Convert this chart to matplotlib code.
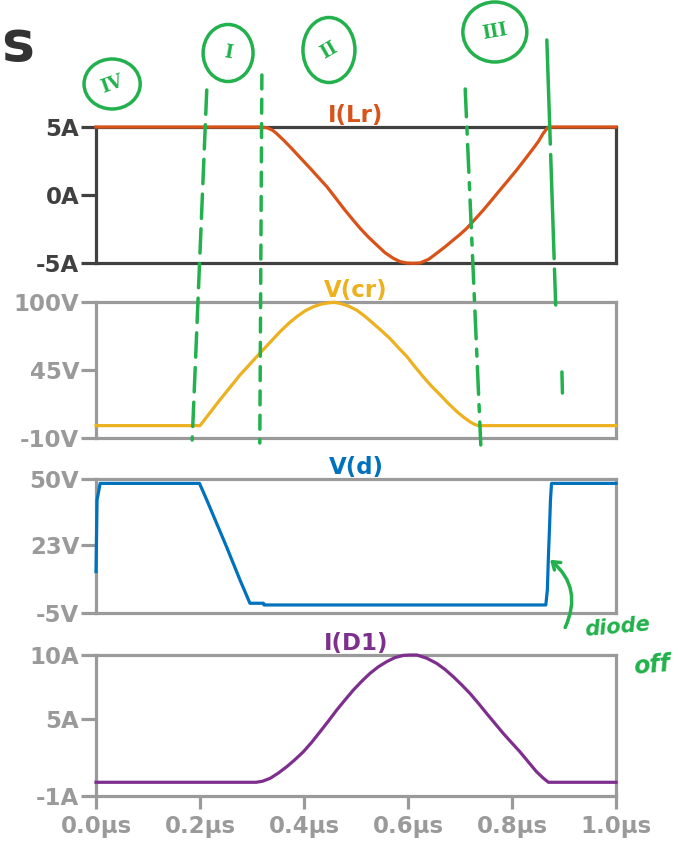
import matplotlib.pyplot as plt
from matplotlib.patches import Ellipse, FancyArrowPatch

# time axis in µs
t_lr = [0.0, 0.319, 0.330, 0.340, 0.347, 0.363, 0.379, 0.395, 0.412, 0.428, 0.444, 0.460,
        0.476, 0.492, 0.508, 0.524, 0.540, 0.556, 0.572, 0.585, 0.597, 0.610, 0.623,
        0.640, 0.655, 0.671, 0.687, 0.700, 0.713, 0.729, 0.745, 0.761, 0.777, 0.793,
        0.809, 0.825, 0.841, 0.851, 0.860, 0.865, 0.870, 1.0]
i_lr = [5, 5, 4.93, 4.75, 4.53, 3.95, 3.31, 2.65, 1.96, 1.28, 0.61, -0.18,
        -0.98, -1.73, -2.45, -3.10, -3.68, -4.25, -4.66, -4.90, -5, -5.02, -5,
        -4.72, -4.29, -3.82, -3.31, -2.90, -2.45, -1.78, -1.10, -0.37, 0.37, 1.10,
        1.84, 2.63, 3.43, 3.95, 4.53, 4.78, 5, 5]

t_cr = [0.0, 0.200, 0.238, 0.277, 0.315, 0.354, 0.370, 0.386, 0.402, 0.418, 0.434, 0.450,
        0.458, 0.469, 0.485, 0.501, 0.517, 0.533, 0.549, 0.565, 0.581, 0.598, 0.613,
        0.629, 0.645, 0.662, 0.678, 0.694, 0.707, 0.719, 0.727, 0.735, 1.0]
v_cr = [0, 0, 20.7, 41.0, 58.5, 76.0, 82.5, 88.1, 92.8, 96.2, 98.4, 99.5,
        99.8, 98.9, 96.8, 93.5, 88.5, 82.7, 76.8, 70.6, 63.3, 55.8, 47.8,
        39.6, 32.0, 24.8, 17.8, 11.3, 6.8, 3.2, 1.2, 0, 0]

t_d = [0.0, 0.002, 0.008, 0.199, 0.213, 0.251, 0.277, 0.296, 0.322, 0.323,
       0.865, 0.868, 0.870, 0.872, 0.874, 0.876, 1.0]
v_d = [12, 41.4, 48.2, 48.2, 41.4, 22.2, 8.5, -1.0, -1.0, -1.7,
       -1.7, 4.4, 18.1, 29.1, 41.4, 48.2, 48.2]

t_d1 = [0.0, 0.308, 0.320, 0.335, 0.351, 0.367, 0.383, 0.399, 0.415, 0.431, 0.447, 0.463,
        0.479, 0.495, 0.511, 0.527, 0.543, 0.559, 0.575, 0.591, 0.604, 0.617, 0.636,
        0.655, 0.671, 0.687, 0.703, 0.719, 0.735, 0.751, 0.767, 0.783, 0.799, 0.815,
        0.831, 0.847, 0.860, 0.870, 1.0]
i_d1 = [0.07, 0.07, 0.15, 0.38, 0.80, 1.29, 1.85, 2.46, 3.20, 4.02, 4.85, 5.71,
        6.50, 7.27, 7.95, 8.57, 9.08, 9.48, 9.80, 9.97, 10, 10, 9.75,
        9.35, 8.88, 8.31, 7.68, 7.01, 6.25, 5.45, 4.67, 3.89, 3.17, 2.46,
        1.68, 0.90, 0.40, 0.07, 0.07]

names = ['I(Lr)', 'V(cr)', 'V(d)', 'I(D1)']
colors = ['#D95319', '#EDB120', '#0072BD', '#7E2F8E']
yticks = [[-5, 0, 5], [-10, 45, 100], [-5, 23, 50], [-1, 5, 10]]
yticklabels = [['-5A', '0A', '5A'], ['-10V', '45V', '100V'], ['-5V', '23V', '50V'], ['-1A', '5A', '10A']]
xticks = [0.0, 0.2, 0.4, 0.6, 0.8, 1.0]
xticklabels = ['0.0µs', '0.2µs', '0.4µs', '0.6µs', '0.8µs', '1.0µs']
series = [(t_lr, i_lr), (t_cr, v_cr), (t_d, v_d), (t_d1, i_d1)]

W_PX, H_PX = 679, 855
left, width = 96 / W_PX, 520 / W_PX
rows = [(127, 263), (302, 438), (479, 613), (655, 796)]

fig = plt.figure(figsize=(W_PX / 100, H_PX / 100), dpi=100)
fs = 16.5
for k, (top, bot) in enumerate(rows):
    ax = fig.add_axes([left, 1 - bot / H_PX, width, (bot - top) / H_PX])
    fc = '#404040' if k == 0 else '#9a9a9a'
    t, v = series[k]
    ax.plot(t, v, color=colors[k], lw=2.3, clip_on=False, zorder=3)
    ax.set_xlim(0, 1)
    ax.set_ylim(yticks[k][0], yticks[k][-1])
    for sp in ax.spines.values():
        sp.set_color(fc)
        sp.set_linewidth(2.3)
    ax.set_yticks(yticks[k])
    ax.set_yticklabels(yticklabels[k], fontweight='bold', fontsize=fs)
    ax.tick_params(axis='y', length=11, width=2.3, color=fc, labelcolor=fc, pad=1)
    if k == len(rows) - 1:
        ax.set_xticks(xticks)
        ax.set_xticklabels(xticklabels, fontweight='bold', fontsize=fs)
        ax.tick_params(axis='x', length=9, width=2.3, color=fc, labelcolor=fc, pad=5)
    else:
        ax.set_xticks([])
    ax.set_title(names[k], color=colors[k], fontweight='bold', fontsize=fs, pad=2)

# hand-drawn green notes, x in µs, y in pixel rows from the top
green = '#22b14c'
ov = fig.add_axes([0, 0, 1, 1], zorder=10)
ov.set_xlim(-left / width, (1 - left) / width)
ov.set_ylim(H_PX, 0)
ov.axis('off')

guide_t = [(0.213, 0.185), (0.319, 0.315), (0.710, 0.740), (0.867, 0.884), (0.896, 0.897)]
guide_y = [(90, 440), (75, 443), (89, 445), (40, 305), (372, 393)]
guide_dash = [(7, 3), (4, 3), (8, 3, 2, 3), (30, 3), (10, 1)]
for gt, gy, dash in zip(guide_t, guide_y, guide_dash):
    ov.plot(gt, gy, color=green, lw=2.5, linestyle=(0, dash), solid_capstyle='round',
            dash_capstyle='round', clip_on=False)

note_t = [0.031, 0.254, 0.448, 0.767]
note_y = [84, 53, 50, 32]
note_w = [0.108, 0.096, 0.100, 0.123]
note_h = [50, 57, 65, 60]
note_txt = ['IV', 'I', 'II', 'III']
note_rot = [20, -10, 30, 10]
for nt, ny, nw, nh, txt, rot in zip(note_t, note_y, note_w, note_h, note_txt, note_rot):
    ov.add_patch(Ellipse((nt, ny), nw, nh, fill=False, edgecolor=green, lw=2.5, clip_on=False))
    ov.text(nt, ny, txt, color=green, fontsize=13, fontweight='bold', family='DejaVu Serif',
            rotation=rot, ha='center', va='center')

ov.add_patch(FancyArrowPatch((0.900, 630), (0.869, 558), connectionstyle='arc3,rad=0.4',
                             arrowstyle='->,head_length=5,head_width=3.5',
                             color=green, lw=2.5, clip_on=False))
ov.text(1.002, 627, 'diode', color=green, fontsize=15, fontweight='bold', style='italic',
        rotation=5, ha='center', va='center')
ov.text(1.069, 665, 'off', color=green, fontsize=17, fontweight='bold', style='italic',
        rotation=5, ha='center', va='center')

ov.text(-0.183, 45, 's', color='#333333', fontsize=40, fontweight='bold', ha='left', va='center')

fig.savefig('out.png', dpi=100)
